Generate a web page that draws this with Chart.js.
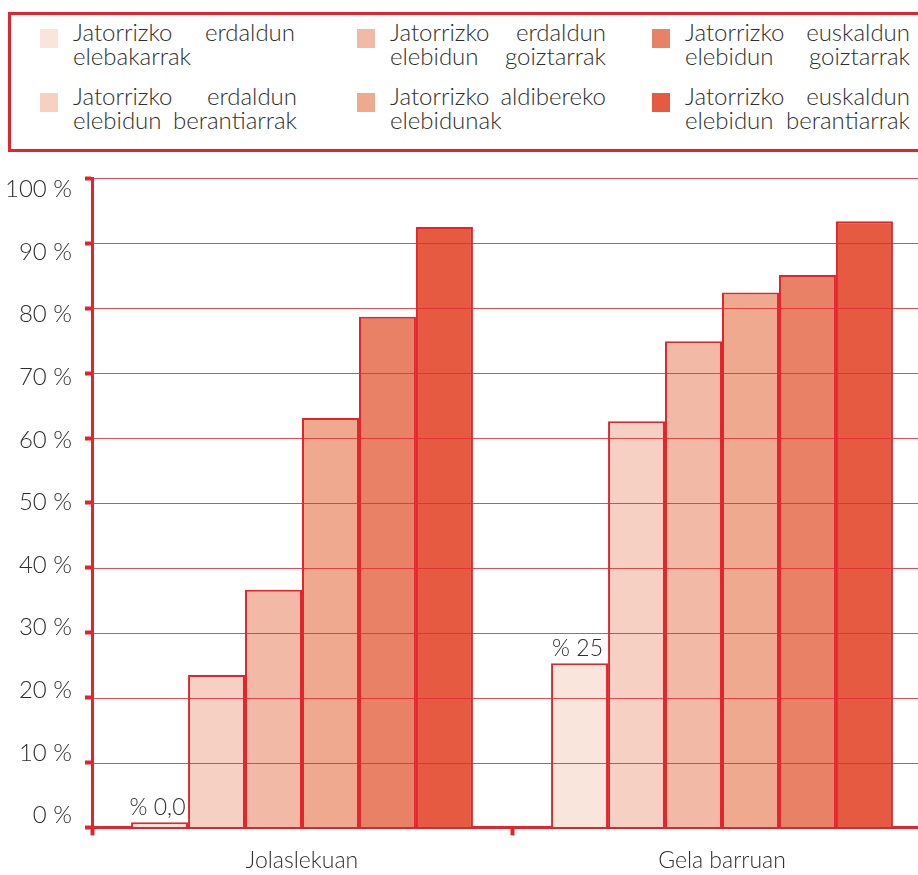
<!DOCTYPE html>
<html>
<head>
<meta charset="utf-8">
<script src="https://cdn.jsdelivr.net/npm/chart.js@4.4.1/dist/chart.umd.min.js"></script>
<style>
  html, body { margin: 0; padding: 0; background: #fff; overflow: hidden; width: 918px; height: 875px; }
  body { font-family: 'Lato', sans-serif; font-weight: 300; color: #2e2e2e; position: relative; }
  #legend {
    position: absolute; left: 8px; top: 12px; width: 940px; height: 134px;
    border: 3px solid #e2242c; box-sizing: content-box;
  }
  .item { position: absolute; font-size: 24px; line-height: 24px; }
  .item .sw { position: absolute; left: 0; top: 9px; width: 18px; height: 19px; }
  .item .txt { position: absolute; left: 33px; top: 0; }
  .item .ln { text-align: justify; text-align-last: justify; white-space: nowrap; }
  #wrap { position: absolute; left: 0; top: 160px; width: 932px; height: 725px; }
</style>
</head>
<body>
<div id="legend"></div>
<div id="wrap"><canvas id="chart"></canvas></div>
<script>
// Datuak
const categories = ['Jolaslekuan', 'Gela barruan'];
const seriesLabels = [
    ['Jatorrizko erdaldun', 'elebakarrak'],
    ['Jatorrizko erdaldun', 'elebidun berantiarrak'],
    ['Jatorrizko erdaldun', 'elebidun goiztarrak'],
    ['Jatorrizko aldibereko', 'elebidunak'],
    ['Jatorrizko euskaldun', 'elebidun goiztarrak'],
    ['Jatorrizko euskaldun', 'elebidun berantiarrak']
];
const seriesValues = [
    [0.8, 25.3],
    [23.5, 62.6],
    [36.6, 74.9],
    [63.1, 82.4],
    [78.7, 85.1],
    [92.5, 93.4]
];
const firstSeriesLabels = ['% 0,0', '% 25'];
const yTicks = [0, 10, 20, 30, 40, 50, 60, 70, 80, 90, 100];
const colors = ['#fae5dc', '#f6d0c2', '#f3b9a7', '#efa98e', '#e98166', '#e55a40'];

const RED = '#e2242c';
const FONT = "'Lato', sans-serif";

// Legenda (HTML, bi lerrotan)
const legendPos = [[29, 5], [29, 69], [346, 5], [346, 69], [641, 5], [641, 69]];
const legendWidth = [222, 224, 216, 216, 225, 225];
const legend = document.getElementById('legend');
seriesLabels.forEach((lines, i) => {
    const el = document.createElement('div');
    el.className = 'item';
    el.style.left = legendPos[i][0] + 'px';
    el.style.top = legendPos[i][1] + 'px';
    let html = '<div class="sw" style="background:' + colors[i] + '"></div><div class="txt">';
    lines.forEach(l => {
        html += '<div class="ln" style="width:' + legendWidth[i] + 'px">' + l + '</div>';
    });
    el.innerHTML = html + '</div>';
    legend.appendChild(el);
});

// Sareta barren gainean marrazteko
const gridOnTop = {
    id: 'gridOnTop',
    afterDatasetsDraw(chart) {
        const { ctx, chartArea, scales } = chart;
        ctx.save();
        ctx.strokeStyle = 'rgba(228, 45, 50, 0.85)';
        ctx.lineWidth = 1;
        yTicks.forEach(v => {
            if (v === 0) return;
            const y = Math.round(scales.y.getPixelForValue(v)) + 0.5;
            ctx.beginPath();
            ctx.moveTo(chartArea.left, y);
            ctx.lineTo(chartArea.right, y);
            ctx.stroke();
        });
        // lehen serieko etiketak
        const meta = chart.getDatasetMeta(0);
        ctx.fillStyle = '#2e2e2e';
        ctx.font = '300 23px ' + FONT;
        ctx.textAlign = 'center';
        ctx.textBaseline = 'bottom';
        meta.data.forEach((bar, i) => {
            ctx.fillText(firstSeriesLabels[i], bar.x - 2, bar.y - 3);
        });
        ctx.restore();
    }
};

new Chart(document.getElementById('chart'), {
    type: 'bar',
    data: {
        labels: categories,
        datasets: seriesValues.map((vals, i) => ({
            label: seriesLabels[i].join(' '),
            data: vals,
            backgroundColor: colors[i],
            borderColor: RED,
            borderWidth: 2,
            borderSkipped: 'bottom',
            categoryPercentage: 0.814,
            barPercentage: 1
        }))
    },
    options: {
        responsive: true,
        maintainAspectRatio: false,
        animation: false,
        layout: { padding: { top: 13, left: 0, right: 0, bottom: 0 } },
        plugins: {
            legend: { display: false },
            tooltip: { enabled: false }
        },
        scales: {
            x: {
                grid: { drawOnChartArea: false, tickLength: 8, tickWidth: 4, color: RED },
                border: { color: RED, width: 3 },
                ticks: { color: '#2e2e2e', font: { family: FONT, size: 23, weight: 300 }, padding: 11 }
            },
            y: {
                min: 0,
                max: 100,
                weight: 0,
                ticks: { display: false, stepSize: 10 },
                grid: { drawOnChartArea: false, tickLength: 7, tickWidth: 4, color: RED },
                border: { color: RED, width: 3 },
                afterFit: s => { s.width = 16; }
            },
            yLabels: {
                position: 'left',
                weight: 10,
                min: -1.9,
                max: 101.75,
                grid: { display: false, drawTicks: false },
                border: { display: false },
                ticks: {
                    color: '#2e2e2e',
                    padding: 4,
                    font: { family: FONT, size: 24, weight: 300 },
                    callback: v => v + ' %'
                },
                afterBuildTicks: s => { s.ticks = yTicks.map(v => ({ value: v })); },
                afterFit: s => { s.width = 76; }
            }
        }
    },
    plugins: [gridOnTop]
});
</script>
</body>
</html>
